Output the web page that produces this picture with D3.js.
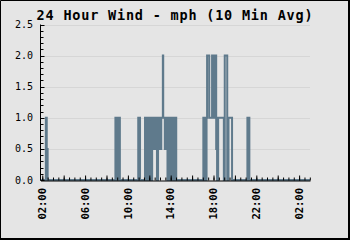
<!DOCTYPE html>
<html>
<head>
<meta charset="utf-8"/>
<script src="https://cdn.jsdelivr.net/npm/d3@7"></script>
<style>
  body { margin: 0; background: #e5e5e5; }
  svg text { font-family: "DejaVu Sans Mono", monospace; fill: #000; }
</style>
</head>
<body>
<div id="chart"></div>
<script>
// chart values
var title = "24 Hour Wind - mph (10 Min Avg)";
var startTime = "01:50", endTime = "03:01";   // end falls on the next day
// wind speed (mph), step series: value holds from its time to the next
var stepTimes = ["01:50", "02:20", "02:25", "02:30",
  "08:50", "09:00", "09:05", "09:15", "10:58", "11:08",
  "11:36", "11:47", "11:57", "12:07", "12:16", "12:26", "12:36", "12:43", "12:49", "12:58",
  "13:07", "13:16", "13:18", "13:27", "13:35", "13:42", "13:50", "13:59", "14:07", "14:17",
  "14:24", "14:31",
  "17:03", "17:12", "17:21", "17:24", "17:36", "17:52", "18:02", "18:10", "18:15", "18:20",
  "18:26", "18:58", "19:03", "19:17", "19:24", "19:44", "21:10", "21:21"];
var stepValues = [0, 1, 0.5, 0,
  1, 0, 1, 0, 1, 0,
  1, 0, 1, 0, 1, 0.5, 1, 0, 1, 0.5,
  1, 2, 1, 0.5, 1, 0, 1, 0, 1, 0,
  1, 0,
  1, 0, 1, 2, 1, 2, 1, 2, 0.5, 0,
  1, 0, 2, 0, 1, 0, 1, 0];
var yLabels = [0, 0.5, 1, 1.5, 2, 2.5];
var xLabels = ["02:00", "06:00", "10:00", "14:00", "18:00", "22:00", "02:00"];

var W = 350, H = 240;
var day0 = new Date(2024, 0, 1);

// turn "HH:MM" lists into dates, rolling to the next day when the clock wraps
function parseSeq(arr) {
    var prev = -1, off = 0;
    return arr.map(function(s) {
        var p = s.split(":");
        var m = +p[0] * 60 + +p[1];
        if (m < prev) off += 1440;
        prev = m;
        return new Date(day0.getTime() + (m + off) * 60000);
    });
}

var dom = [parseSeq([startTime])[0], d3.timeDay.offset(parseSeq([endTime])[0], 1)];
var x = d3.scaleTime().domain(dom).range([40.5, 310]);
var y = d3.scaleLinear().domain([0, 2.5]).range([180, 24.5]);

var svg = d3.select("#chart").append("svg")
    .attr("width", W).attr("height", H);

svg.append("rect").attr("width", W).attr("height", H).attr("fill", "#e5e5e5");

// grid
svg.append("g").selectAll("line")
    .data(yLabels.filter(function(d) { return d > 0; }))
    .enter().append("line")
    .attr("x1", 41).attr("x2", 310)
    .attr("y1", function(d) { return Math.round(y(d)) + 0.5; })
    .attr("y2", function(d) { return Math.round(y(d)) + 0.5; })
    .attr("stroke", "#d6d6d6");

// data line
var pts = parseSeq(stepTimes).map(function(t, i) { return [t, stepValues[i]]; });
pts.push([dom[1], stepValues[stepValues.length - 1]]);

svg.append("path")
    .datum(pts)
    .attr("fill", "none")
    .attr("stroke", "#5f7a8c")
    .attr("stroke-width", 2)
    .attr("d", d3.line()
        .x(function(d) { return x(d[0]); })
        .y(function(d) { return y(d[1]); })
        .curve(d3.curveStepAfter));

// x axis: half hour ticks, longer every 2 hours
var xAxisY = 180.5;
svg.append("g")
    .attr("transform", "translate(0," + xAxisY + ")")
    .call(d3.axisBottom(x).ticks(d3.timeMinute.every(30)).tickSize(-3).tickSizeOuter(0).tickFormat(""))
    .call(function(g) { g.selectAll("line").attr("stroke", "#000"); g.select(".domain").attr("stroke", "#000"); });
svg.append("g")
    .attr("transform", "translate(0," + xAxisY + ")")
    .call(d3.axisBottom(x).ticks(d3.timeHour.every(2)).tickSize(-5).tickSizeOuter(0).tickFormat(""))
    .call(function(g) { g.select(".domain").remove(); g.selectAll("line").attr("stroke", "#000"); });

var labelDates = parseSeq(xLabels);
svg.append("g").selectAll("text")
    .data(labelDates)
    .enter().append("text")
    .attr("transform", function(d) { return "translate(" + x(d) + ",188) rotate(-90)"; })
    .attr("text-anchor", "end")
    .attr("dy", "0.35em")
    .attr("font-size", "10.5px")
    .attr("font-weight", "bold")
    .text(function(d, i) { return xLabels[i]; });

// y axis
var yAxisX = 40.5;
svg.append("line")
    .attr("x1", yAxisX).attr("x2", yAxisX)
    .attr("y1", y(2.5)).attr("y2", xAxisY)
    .attr("stroke", "#000");
svg.append("g").selectAll("line")
    .data(y.ticks(25))
    .enter().append("line")
    .attr("x1", yAxisX)
    .attr("x2", function(d, i) { return yAxisX + (i % 5 === 0 ? 4 : 3); })
    .attr("y1", function(d) { return Math.round(y(d)) + 0.5; })
    .attr("y2", function(d) { return Math.round(y(d)) + 0.5; })
    .attr("stroke", "#000");
svg.append("g").selectAll("text")
    .data(yLabels)
    .enter().append("text")
    .attr("x", 33)
    .attr("y", function(d) { return y(d); })
    .attr("dy", "0.35em")
    .attr("text-anchor", "end")
    .attr("font-size", "10px")
    .text(d3.format(".1f"));

// title
svg.append("text")
    .attr("x", 175).attr("y", 19.5)
    .attr("text-anchor", "middle")
    .attr("font-size", "13.5px")
    .attr("font-weight", "bold")
    .attr("letter-spacing", "0.8px")
    .text(title);

// frame
svg.append("path")
    .attr("d", "M0.5,239 V0.5 H349")
    .attr("fill", "none").attr("stroke", "#000");
svg.append("path")
    .attr("d", "M0,239 H349 V0")
    .attr("fill", "none").attr("stroke", "#000").attr("stroke-width", 2);
</script>
</body>
</html>
